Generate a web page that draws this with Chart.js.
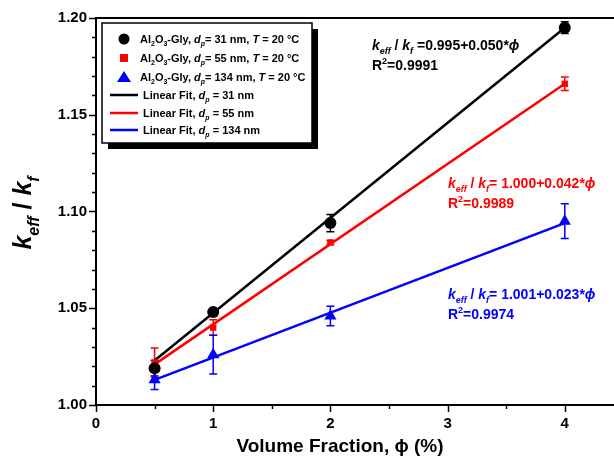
<!DOCTYPE html>
<html>
<head>
<meta charset="utf-8">
<script src="https://cdn.jsdelivr.net/npm/chart.js@4.4.0/dist/chart.umd.min.js"></script>
<style>
  html, body { margin: 0; padding: 0; background: #fff; }
  #wrap { width: 614px; height: 468px; position: relative; }
</style>
</head>
<body>
<div id="wrap"><canvas id="chart"></canvas></div>
<script>
// values
const volFrac = [0.5, 1, 2, 4];
const ratio31 = [1.019, 1.048, 1.094, 1.195];
const err31 = [0.004, 0.002, 0.0045, 0.003];
const ratio55 = [1.022, 1.040, 1.084, 1.166];
const err55 = [0.0075, 0.004, 0.001, 0.0035];
const ratio134 = [1.013, 1.026, 1.046, 1.095];
const err134 = [0.005, 0.010, 0.005, 0.009];

const fitX = [0.5, 4];
const fit31 = [1.023, 1.195];
const fit55 = [1.021, 1.166];
const fit134 = [1.013, 1.094];

const xTickLabels = ['0', '1', '2', '3', '4'];
const yTickLabels = ['1.00', '1.05', '1.10', '1.15', '1.20'];

const FONT = '"Liberation Sans", Arial, sans-serif';
const BLUE = '#0000ff';
const RED = '#ff0000';

function pts(xs, ys) {
    return xs.map((x, i) => ({ x: x, y: ys[i] }));
}

// text made of parts: [text, style] with style '', 'i', 'sub', 'isub', 'sup'
function partFont(style, size) {
    let small = style == 'sub' || style == 'isub' || style == 'sup';
    let s = small ? Math.round(size * 0.65) : size;
    let it = (style == 'i' || style == 'isub') ? 'italic ' : '';
    return it + 'bold ' + s + 'px ' + FONT;
}
function richWidth(ctx, parts, size) {
    let w = 0;
    parts.forEach(p => {
        ctx.font = partFont(p[1], size);
        w += ctx.measureText(p[0]).width;
    });
    return w;
}
function drawRich(ctx, x, y, parts, size, color) {
    ctx.fillStyle = color;
    ctx.textBaseline = 'alphabetic';
    ctx.textAlign = 'left';
    parts.forEach(p => {
        ctx.font = partFont(p[1], size);
        let dy = 0;
        if (p[1] == 'sub' || p[1] == 'isub') dy = size * 0.3;
        if (p[1] == 'sup') dy = -size * 0.4;
        ctx.fillText(p[0], x, y + dy);
        x += ctx.measureText(p[0]).width;
    });
    return x;
}

const errorBars = {
    id: 'errorBars',
    beforeDatasetsDraw(chart) {
        const ctx = chart.ctx;
        const xs = chart.scales.x, ys = chart.scales.y;
        const sets = [[ratio31, err31, '#000'], [ratio55, err55, RED], [ratio134, err134, BLUE]];
        ctx.save();
        sets.forEach(s => {
            ctx.strokeStyle = s[2];
            ctx.lineWidth = 1.5;
            volFrac.forEach((x, i) => {
                let px = xs.getPixelForValue(x);
                let top = ys.getPixelForValue(s[0][i] + s[1][i]);
                let bot = ys.getPixelForValue(s[0][i] - s[1][i]);
                ctx.beginPath();
                ctx.moveTo(px, top); ctx.lineTo(px, bot);
                ctx.moveTo(px - 4, top); ctx.lineTo(px + 4, top);
                ctx.moveTo(px - 4, bot); ctx.lineTo(px + 4, bot);
                ctx.stroke();
            });
        });
        ctx.restore();
    }
};

const decorations = {
    id: 'decorations',
    afterDraw(chart) {
        const ctx = chart.ctx;
        const a = chart.chartArea;
        const xs = chart.scales.x, ys = chart.scales.y;
        ctx.save();

        // frame top
        ctx.strokeStyle = '#000';
        ctx.lineWidth = 2;
        ctx.beginPath();
        ctx.moveTo(a.left - 1, a.top); ctx.lineTo(a.right, a.top);
        ctx.stroke();

        // tick marks, major and minor
        ctx.lineWidth = 1.5;
        ctx.beginPath();
        ys.ticks.forEach(t => {
            let n = Math.round(t.value * 100);
            let len = n % 5 == 0 ? 7 : 4;
            let py = Math.round(ys.getPixelForValue(t.value)) + 0.5;
            ctx.moveTo(a.left, py); ctx.lineTo(a.left - len, py);
        });
        xs.ticks.forEach(t => {
            let n = Math.round(t.value * 2);
            let len = n % 2 == 0 ? 7 : 4;
            let px = Math.round(xs.getPixelForValue(t.value)) + 0.5;
            ctx.moveTo(px, a.bottom); ctx.lineTo(px, a.bottom + len);
        });
        ctx.stroke();

        // axis titles
        ctx.fillStyle = '#000';
        ctx.font = 'bold 19px ' + FONT;
        ctx.textAlign = 'center';
        ctx.textBaseline = 'middle';
        ctx.fillText('Volume Fraction, \u03d5 (%)', 340, 447);

        const kTitle = [['k', 'i'], ['eff', 'isub'], [' / ', ''], ['k', 'i'], ['f', 'isub']];
        ctx.save();
        ctx.translate(31, 213);
        ctx.rotate(-Math.PI / 2);
        let tw = richWidth(ctx, kTitle, 25);
        drawRich(ctx, -tw / 2, 0, kTitle, 25, '#000');
        ctx.restore();

        // fit equations
        const notes = [
            [372, 50, ' =0.995+0.050*', '0.9991', '#000'],
            [448, 188, '= 1.000+0.042*', '0.9989', RED],
            [448, 299, '= 1.001+0.023*', '0.9974', BLUE]
        ];
        notes.forEach(n => {
            let parts = kTitle.concat([[n[2], ''], ['\u03d5', 'i']]);
            drawRich(ctx, n[0], n[1], parts, 14, n[4]);
            drawRich(ctx, n[0], n[1] + 20, [['R', ''], ['2', 'sup'], ['=' + n[3], '']], 14, n[4]);
        });

        // legend box with shadow
        const lx = 102, ly = 23, lw = 210, lh = 120;
        ctx.fillStyle = '#000';
        ctx.fillRect(lx + 6, ly + 6, lw, lh);
        ctx.fillStyle = '#fff';
        ctx.fillRect(lx, ly, lw, lh);
        ctx.strokeStyle = '#000';
        ctx.lineWidth = 1.5;
        ctx.strokeRect(lx, ly, lw, lh);

        const alLabel = d => [['Al', ''], ['2', 'sub'], ['O', ''], ['3', 'sub'], ['-Gly, ', ''], ['d', 'i'], ['p', 'isub'],
            ['= ' + d + ' nm, ', ''], ['T', 'i'], [' = 20 \u00b0C', '']];
        const fitLabel = d => [['Linear Fit, ', ''], ['d', 'i'], ['p', 'isub'], [' = ' + d + ' nm', '']];
        const rows = [
            ['circle', '#000', alLabel(31)],
            ['rect', RED, alLabel(55)],
            ['tri', BLUE, alLabel(134)],
            ['line', '#000', fitLabel(31)],
            ['line', RED, fitLabel(55)],
            ['line', BLUE, fitLabel(134)]
        ];
        const rowY = [39, 58, 77, 95, 113, 130];
        rows.forEach((r, i) => {
            let cy = rowY[i];
            ctx.fillStyle = r[1];
            ctx.strokeStyle = r[1];
            if (r[0] == 'circle') {
                ctx.beginPath(); ctx.arc(124, cy, 5.5, 0, Math.PI * 2); ctx.fill();
            } else if (r[0] == 'rect') {
                ctx.fillRect(120, cy - 4, 8, 8);
            } else if (r[0] == 'tri') {
                ctx.beginPath();
                ctx.moveTo(124, cy - 6); ctx.lineTo(131, cy + 5); ctx.lineTo(117, cy + 5);
                ctx.closePath(); ctx.fill();
            } else {
                ctx.lineWidth = 2.5;
                ctx.beginPath(); ctx.moveTo(110, cy); ctx.lineTo(138, cy); ctx.stroke();
            }
            let tx = r[0] == 'line' ? 143 : 140;
            drawRich(ctx, tx, cy + 4, r[2], 11, '#000');
        });

        ctx.restore();
    }
};

new Chart(document.getElementById('chart'), {
    type: 'scatter',
    data: {
        datasets: [
            { label: 'd31', data: pts(volFrac, ratio31), pointStyle: 'circle', pointRadius: 6,
              backgroundColor: '#000', borderColor: '#000', borderWidth: 0 },
            { label: 'd55', data: pts(volFrac, ratio55), pointStyle: 'rect', pointRadius: 4.5,
              backgroundColor: RED, borderColor: RED, borderWidth: 0 },
            { label: 'd134', data: pts(volFrac, ratio134), pointStyle: 'triangle', pointRadius: 7,
              backgroundColor: BLUE, borderColor: BLUE, borderWidth: 0 },
            { label: 'fit31', data: pts(fitX, fit31), showLine: true, pointRadius: 0,
              borderColor: '#000', borderWidth: 2.5 },
            { label: 'fit55', data: pts(fitX, fit55), showLine: true, pointRadius: 0,
              borderColor: RED, borderWidth: 2.5 },
            { label: 'fit134', data: pts(fitX, fit134), showLine: true, pointRadius: 0,
              borderColor: BLUE, borderWidth: 2.5 }
        ]
    },
    options: {
        responsive: true,
        maintainAspectRatio: false,
        animation: false,
        layout: { autoPadding: false, padding: { top: 18, right: 0, left: 0, bottom: 0 } },
        plugins: { legend: { display: false }, tooltip: { enabled: false } },
        scales: {
            x: {
                type: 'linear', min: 0, max: 4.42,
                afterFit: s => { s.height = 63; s.paddingLeft = 0; s.paddingRight = 0; },
                afterBuildTicks: s => {
                    let t = [];
                    for (let i = 0; i <= 8; i++) t.push({ value: i / 2 });
                    s.ticks = t;
                },
                grid: { display: false, drawTicks: false },
                border: { display: true, color: '#000', width: 2 },
                ticks: {
                    padding: 10, color: '#000', maxRotation: 0, autoSkip: false,
                    font: { family: FONT, size: 15, weight: 'bold' },
                    callback: v => {
                        let i = Math.round(v);
                        return Math.abs(v - i) < 1e-6 && xTickLabels[i] !== undefined ? xTickLabels[i] : '';
                    }
                }
            },
            y: {
                type: 'linear', min: 1.0, max: 1.2,
                afterFit: s => { s.width = 96; s.paddingTop = 0; s.paddingBottom = 0; },
                afterBuildTicks: s => {
                    let t = [];
                    for (let i = 0; i <= 20; i++) t.push({ value: 1 + i / 100 });
                    s.ticks = t;
                },
                grid: { display: false, drawTicks: false },
                border: { display: true, color: '#000', width: 2 },
                ticks: {
                    padding: 9, color: '#000', autoSkip: false,
                    font: { family: FONT, size: 15, weight: 'bold' },
                    callback: v => {
                        let n = Math.round(v * 100);
                        return n % 5 == 0 ? yTickLabels[(n - 100) / 5] : '';
                    }
                }
            }
        }
    },
    plugins: [errorBars, decorations]
});
</script>
</body>
</html>
